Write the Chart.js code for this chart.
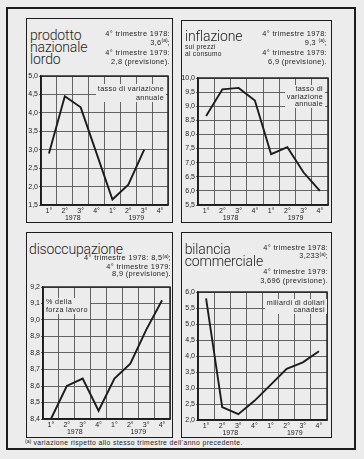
<!DOCTYPE html>
<html><head><meta charset="utf-8">
<script src="https://cdn.jsdelivr.net/npm/chart.js@4/dist/chart.umd.min.js"></script>
<style>
html,body{margin:0;padding:0;background:#ececec;}
body{width:364px;height:459px;position:relative;overflow:hidden;font-family:"Liberation Sans",Arial,sans-serif;color:#1c1c1c;}
.a{position:absolute;white-space:nowrap;z-index:3;}
.frame{position:absolute;box-sizing:border-box;border:2px solid #1c1c1c;}
.box{position:absolute;box-sizing:border-box;border:1.5px solid #1c1c1c;}
.title{font-family:Roboto,"Liberation Sans",sans-serif;font-weight:300;font-size:14px;line-height:12.3px;letter-spacing:-0.15px;}
.note{font-size:7.4px;letter-spacing:0.35px;text-align:right;}
.lbl{font-size:7.2px;letter-spacing:0.35px;background:#ececec;padding:0 2px;}
.sp{font-size:5px;position:relative;top:-2.5px;letter-spacing:0;}
canvas{position:absolute;z-index:2;}
</style></head>
<body>
<div class="frame" style="left:6px;top:7px;width:350px;height:443px;"></div>
<div class="box" style="left:26px;top:18px;width:147px;height:205px;"></div>
<div class="box" style="left:181px;top:20px;width:151px;height:203px;"></div>
<div class="box" style="left:26px;top:232px;width:147px;height:206px;"></div>
<div class="box" style="left:181px;top:232px;width:151px;height:206px;"></div>

<div class="a title" style="left:30px;top:28.5px;">prodotto<br>nazionale<br>lordo</div>
<div class="a note" style="right:194px;top:28.5px;line-height:9.3px;">4° trimestre 1978:<br>3,6<span class="sp">(a)</span>;<br>4° trimestre 1979:<br>2,8 (previsione).</div>
<div class="a lbl" style="right:198px;top:83.5px;line-height:9px;text-align:right;">tasso di variazione<br>annuale</div>

<div class="a title" style="left:185px;top:30px;">inflazione</div>
<div class="a" style="left:185px;top:43px;font-size:6.6px;letter-spacing:0.3px;line-height:7px;">sui prezzi<br>al consumo</div>
<div class="a note" style="right:37px;top:28.5px;line-height:9px;">4° trimestre 1978:<br>9,3 <span class="sp">(a)</span>;<br>4° trimestre 1979:<br>6,9 (previsione).</div>
<div class="a lbl" style="right:39px;top:85px;line-height:7.5px;text-align:right;">tasso di<br>variazione<br>annuale</div>

<div class="a title" style="left:29px;top:242.8px;">disoccupazione</div>
<div class="a note" style="right:193px;top:254.2px;line-height:7.5px;">4° trimestre 1978: 8,5<span class="sp">(a)</span>;<br>4° trimestre 1979:<br>8,9 (previsione).</div>
<div class="a lbl" style="left:44px;top:298px;line-height:8px;">% della<br>forza lavoro</div>

<div class="a title" style="left:184.7px;top:242.8px;">bilancia<br>commerciale</div>
<div class="a note" style="right:36px;top:244px;line-height:8.4px;">4° trimestre 1978:<br>3,233<span class="sp">(a)</span>;</div>
<div class="a note" style="right:36px;top:268px;line-height:8.7px;">4° trimestre 1979:<br>3,696 (previsione).</div>
<div class="a lbl" style="right:37px;top:298.5px;line-height:7.7px;text-align:right;">miliardi di dollari<br>canadesi</div>

<div class="a" style="left:25px;top:439px;font-size:6.8px;letter-spacing:0.4px;line-height:8px;"><span class="sp">(a)</span> variazione rispetto allo stesso trimestre dell'anno precedente.</div>

<script>
const quarters = ['1°','2°','3°','4°','1°','2°','3°','4°'];
const years = ['1978','1979'];
const prodottoNazionaleLordo = [2.9, 4.45, 4.15, 2.9, 1.65, 2.05, 3.0, null];
const inflazione = [8.65, 9.6, 9.65, 9.2, 7.3, 7.55, 6.65, 6.0];
const disoccupazione = [8.4, 8.6, 8.645, 8.45, 8.645, 8.735, 8.94, 9.12];
const bilanciaCommerciale = [5.8, 2.4, 2.18, 2.6, 3.1, 3.6, 3.8, 4.15];

const INK = '#1c1c1c', GRID = '#555555', FONT = 'Liberation Sans';
const fmt = v => Number(v).toFixed(1).replace('.', ',');

const framePlugin = {
  id: 'frameBox',
  afterDraw(chart) {
    const a = chart.chartArea, ctx = chart.ctx;
    ctx.save();
    ctx.strokeStyle = INK; ctx.lineWidth = 1.4;
    ctx.strokeRect(a.left, a.top, a.right - a.left, a.bottom - a.top);
    ctx.restore();
  }
};

function panel(canvasRect, plotRect, values, yMin, yMax, step) {
  const [cx, cy, cw, ch] = canvasRect;
  const [px1, py1, px2, py2] = plotRect;
  const c = document.createElement('canvas');
  c.width = cw; c.height = ch;
  c.style.left = cx + 'px'; c.style.top = cy + 'px';
  c.style.width = cw + 'px'; c.style.height = ch + 'px';
  document.body.appendChild(c);
  const W = px1 - cx, padTop = py1 - cy, padRight = cx + cw - px2;
  const below = cy + ch - py2, H1 = 9, H2 = below - H1;
  new Chart(c, {
    type: 'line',
    data: { labels: quarters, datasets: [{ data: values, borderColor: INK, borderWidth: 1.9,
      pointRadius: 0, tension: 0, fill: false, spanGaps: false, xAxisID: 'x', yAxisID: 'y' }] },
    options: {
      responsive: false, animation: false, devicePixelRatio: 1,
      layout: { autoPadding: false, padding: { top: padTop, right: padRight, left: 0, bottom: 0 } },
      plugins: { legend: { display: false }, tooltip: { enabled: false } },
      scales: {
        x: { type: 'category', position: 'bottom', offset: true,
          grid: { offset: true, color: GRID, lineWidth: 0.9, drawTicks: false },
          border: { color: INK, width: 1.4 },
          ticks: { color: INK, font: { family: FONT, size: 7 }, padding: 2, maxRotation: 0, autoSkip: false },
          afterFit: s => { s.height = H1; } },
        x2: { type: 'category', labels: years, position: 'bottom', offset: true,
          grid: { display: false, drawTicks: false }, border: { display: false },
          ticks: { color: INK, font: { family: FONT, size: 7 }, padding: 0, maxRotation: 0, autoSkip: false },
          afterFit: s => { s.height = H2; } },
        y: { min: yMin, max: yMax,
          ticks: { stepSize: step, color: INK, font: { family: FONT, size: 7 }, padding: 1, callback: v => fmt(v) },
          grid: { color: GRID, lineWidth: 0.9, drawTicks: true, tickLength: 2 },
          border: { color: INK, width: 1.4 },
          afterFit: s => { s.width = W; } }
      }
    },
    plugins: [framePlugin]
  });
}

panel([27, 68, 145, 154], [41, 76, 168, 205], prodottoNazionaleLordo, 1.5, 5.0, 0.5);
panel([182, 68, 149, 154], [198, 78, 328, 205], inflazione, 5.5, 10.0, 0.5);
panel([27, 278, 145, 159], [43, 287, 170, 419], disoccupazione, 8.4, 9.2, 0.1);
panel([182, 282, 148, 155], [198, 292, 327, 420], bilanciaCommerciale, 2.0, 6.0, 0.5);
</script>
</body></html>
